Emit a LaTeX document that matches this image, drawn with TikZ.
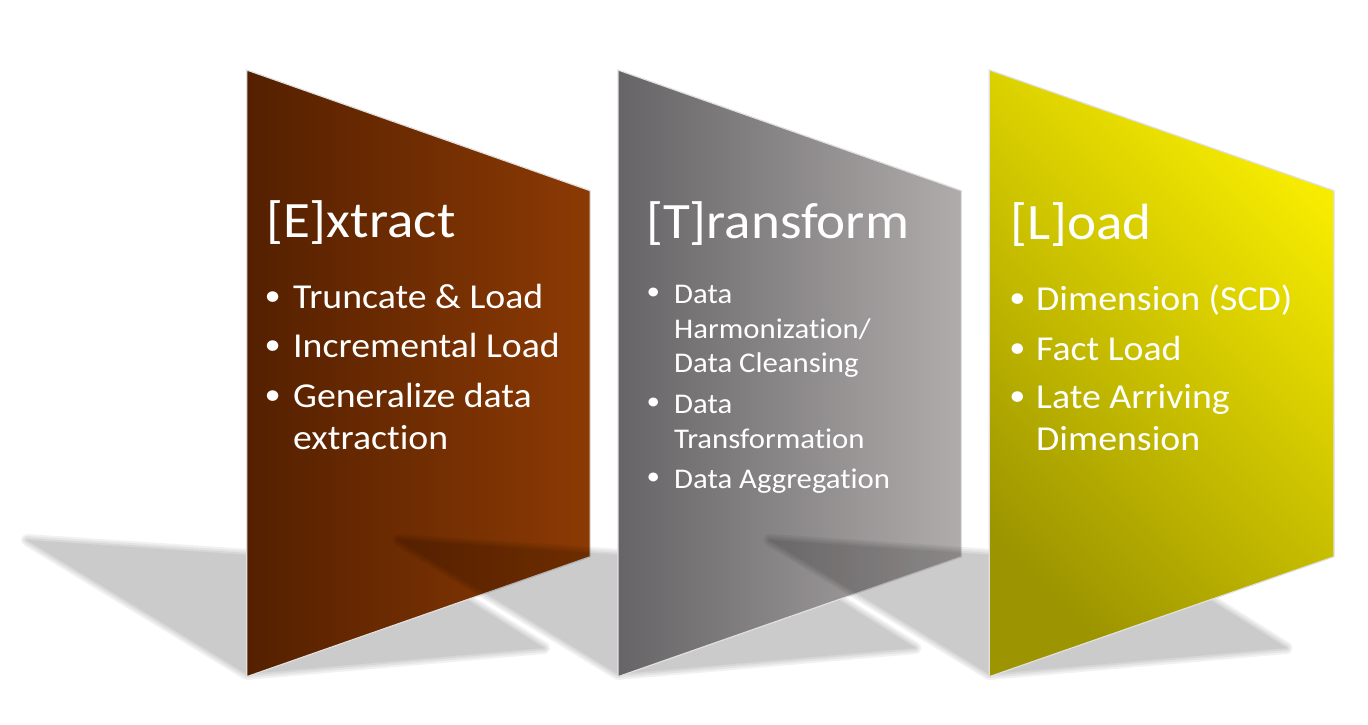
\documentclass[tikz,border=0pt]{standalone}
\usepackage{fontspec}
\setmainfont[FakeStretch=1.08,Ligatures=NoCommon]{Carlito}
\definecolor{eleft}{HTML}{542000}
\definecolor{eright}{HTML}{8C3A04}
\definecolor{tleft}{HTML}{666466}
\definecolor{tright}{HTML}{B0ACAC}
\definecolor{ldark}{HTML}{9C9400}
\definecolor{lbright}{HTML}{F7EC00}
\newcommand\softshadow[4]{%
  \foreach \w in {12,8,4,0.1}{%
    \begin{scope}[transparency group, opacity=0.055]
      \filldraw[black, line width=\w pt, line join=round] #1 -- #2 -- #3 -- #4 -- cycle;
    \end{scope}}}
\begin{document}
\begin{tikzpicture}[x=1pt,y=-1pt,
  ttl/.style={anchor=base west, inner sep=0pt, text=white, font=\fontsize{51}{60}\selectfont},
  big/.style={anchor=base west, inner sep=0pt, text=white, font=\fontsize{35}{42}\selectfont},
  small/.style={anchor=base west, inner sep=0pt, text=white, font=\fontsize{28.5}{34}\selectfont},
  bigdot/.style={anchor=center, inner sep=0pt, text=white, font=\fontsize{30}{36}\selectfont},
  smalldot/.style={anchor=center, inner sep=0pt, text=white, font=\fontsize{25}{30}\selectfont},
  panelborder/.style={draw=black!12, line width=1.2pt}]
\useasboundingbox (0,0) rectangle (1368,725);
% Extract
\softshadow{(246.7,674)}{(27,540)}{(413.2,566)}{(544,648)}
\shade[left color=eleft, right color=eright, panelborder] (246.7,70) -- (590.2,190.7) -- (590.2,556.7) -- (246.7,676.7) -- cycle;
% Transform
\softshadow{(618,674)}{(398.3,540)}{(784.5,566)}{(915.3,648)}
\shade[left color=tleft, right color=tright, panelborder] (618,70) -- (961.5,190.7) -- (961.5,556.7) -- (618,676.7) -- cycle;
% Load
\softshadow{(989.3,674)}{(769.6,540)}{(1155.8,566)}{(1286.6,648)}
\shade[top color=lbright, bottom color=ldark, shading angle=-45, panelborder] (989.3,70) -- (1334,190.7) -- (1334,556.7) -- (989.3,676.7) -- cycle;

% Extract text
\node[ttl] (etitle) at (266,237) {[E]xtract};
\node[bigdot] (eb1) at (272.7,298.3) {\textbullet};
\node[bigdot] (eb2) at (272.7,347.3) {\textbullet};
\node[bigdot] (eb3) at (272.7,397.3) {\textbullet};
\node[big] (et1) at (293,308) {Truncate \& Load};
\node[big] (et2) at (293,357) {Incremental Load};
\node[big] (et3) at (293,407) {Generalize data};
\node[big] (et4) at (293,449) {extraction};

% Transform text
\node[ttl] (ttitle) at (646,238) {[T]ransform};
\node[smalldot] (tb1) at (653.3,294) {\textbullet};
\node[smalldot] (tb2) at (653.3,404) {\textbullet};
\node[smalldot] (tb3) at (653.3,479) {\textbullet};
\node[small] (tt1) at (674,303) {Data};
\node[small] (tt2) at (674,338) {Harmonization/};
\node[small] (tt3) at (674,372) {Data Cleansing};
\node[small] (tt4) at (674,413) {Data};
\node[small] (tt5) at (674,448) {Transformation};
\node[small] (tt6) at (674,488) {Data Aggregation};

% Load text
\node[ttl] (ltitle) at (1010,239) {[L]oad};
\node[bigdot] (lb1) at (1017.5,300.3) {\textbullet};
\node[bigdot] (lb2) at (1017.5,350.3) {\textbullet};
\node[bigdot] (lb3) at (1017.5,398.3) {\textbullet};
\node[big] (lt1) at (1036,310) {Dimension (SCD)};
\node[big] (lt2) at (1036,360) {Fact Load};
\node[big] (lt3) at (1036,408) {Late Arriving};
\node[big] (lt4) at (1036,450) {Dimension};
\end{tikzpicture}
\end{document}
